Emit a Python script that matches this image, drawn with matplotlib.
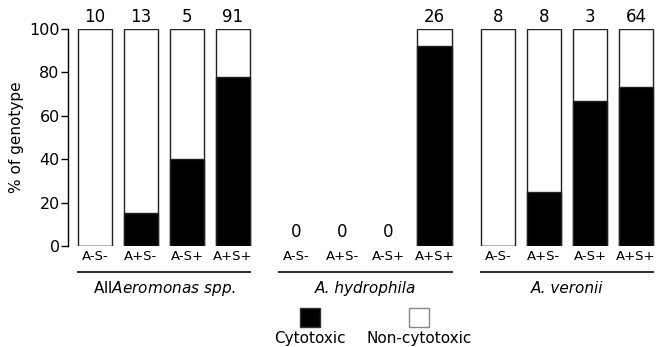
import matplotlib
matplotlib.use("Agg")
import matplotlib.pyplot as plt
from matplotlib.patches import Rectangle

# データ
genotypes = ["A-S-", "A+S-", "A-S+", "A+S+"]
groups = [r"All$\it{Aeromonas\ spp.}$", "A. hydrophila", "A. veronii"]
counts = [[10, 13, 5, 91], [0, 0, 0, 26], [8, 8, 3, 64]]
cytotoxic_pct = [[0, 15.4, 40, 78], [0, 0, 0, 92.3], [0, 25, 66.7, 73.4]]

plt.rcParams["mathtext.fontset"] = "dejavusans"

group_gap = 0.38
width = 0.74

fig = plt.figure(figsize=(6.65, 3.47), dpi=100)
ax = fig.add_axes([68 / 665, 1 - 246 / 347, 592 / 665, 217 / 347])

xs_all = []
labels_all = []
for g in range(len(groups)):
    x0 = g * (len(genotypes) + group_gap)
    xs = [x0 + i for i in range(len(genotypes))]
    for x, n, p in zip(xs, counts[g], cytotoxic_pct[g]):
        if n > 0:
            ax.bar(x, 100, width=width, color="white", edgecolor="#222222", linewidth=1, zorder=2)
            ax.bar(x, p, width=width, color="black", edgecolor="#222222", linewidth=1, zorder=3)
            ax.text(x, 101.5, str(n), ha="center", va="bottom", fontsize=12)
        else:
            ax.text(x, 2.5, str(n), ha="center", va="bottom", fontsize=12)
    # グループの下線
    ax.plot([xs[0] - width / 2, xs[-1] + width / 2], [-12, -12], color="#333333",
            linewidth=1.5, clip_on=False)
    xc = (xs[0] + xs[-1]) / 2
    ax.text(xc, -19.5, groups[g], ha="center", va="center", fontsize=11,
            style="normal" if g == 0 else "italic")
    xs_all += xs
    labels_all += genotypes

ax.set_xticks(xs_all)
ax.set_xticklabels(labels_all, fontsize=9.5)
ax.tick_params(axis="x", length=0, pad=3)
ax.set_xlim(-0.587, -0.587 + 592 / 46)
ax.set_ylim(0, 100)
ax.set_yticks([0, 20, 40, 60, 80, 100])
ax.tick_params(axis="y", labelsize=11.5, length=5, width=1, pad=1)
ax.set_ylabel("% of genotype", fontsize=11)
for s in ["top", "right", "bottom"]:
    ax.spines[s].set_visible(False)
ax.spines["left"].set_linewidth(1)

# 凡例
fig.patches.append(Rectangle((300 / 665, 1 - 327 / 347), 20 / 665, 19 / 347,
                             transform=fig.transFigure, facecolor="black",
                             edgecolor="#333333", linewidth=1))
fig.patches.append(Rectangle((409 / 665, 1 - 327 / 347), 20 / 665, 19 / 347,
                             transform=fig.transFigure, facecolor="white",
                             edgecolor="#888888", linewidth=1))
fig.text(310 / 665, 1 - 338 / 347, "Cytotoxic", ha="center", va="center", fontsize=11)
fig.text(419 / 665, 1 - 338 / 347, "Non-cytotoxic", ha="center", va="center", fontsize=11)

fig.savefig("out.png", dpi=100)
